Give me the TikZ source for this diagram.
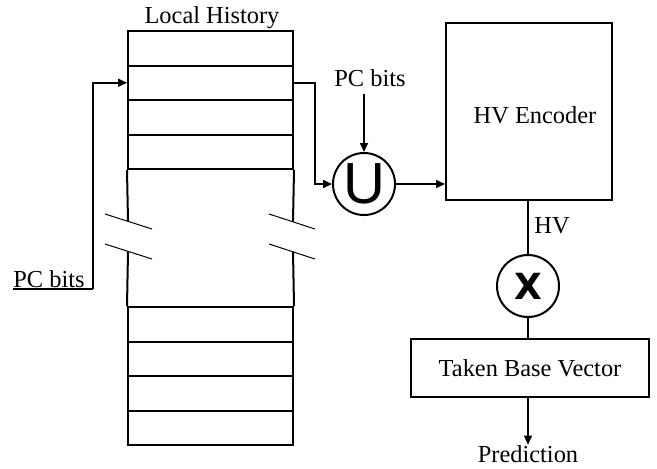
\documentclass[tikz,border=0pt]{standalone}
\usepackage{fontspec}
\setmainfont{Liberation Serif}
\newfontfamily\opsans{Liberation Sans}
\newfontfamily\opbold{DejaVu Sans}
\usetikzlibrary{arrows.meta,positioning}

\tikzset{
  cell/.style={draw,line width=1pt,minimum width=82.5pt,minimum height=17.25pt,inner sep=0pt},
  block/.style={draw,line width=1pt,inner sep=0pt},
  op/.style={draw,circle,line width=1pt,minimum size=31pt,inner sep=0pt},
  wire/.style={line width=0.8pt},
  arr/.style={wire,-{Triangle[length=4.5pt,width=4pt]}},
  brk/.style={line width=0.5pt}
}

\begin{document}
\begin{tikzpicture}[x=0.5pt,y=-0.5pt,font=\fontsize{12.2}{14}\selectfont]
\useasboundingbox (0,0) rectangle (657,468);
\pgfmathsetmacro{\rowh}{34.5}
% local history table
\foreach \i in {0,...,3} {
  \node[cell] (top\i) at (210.5,{31+\rowh*(\i+0.5)}) {};
  \node[cell] (bot\i) at (210.5,{307+\rowh*(\i+0.5)}) {};
}
\node[anchor=base,inner sep=0pt] (lhlabel) at (212,23) {Local History};
% broken sides
\draw[line width=1pt] (top3.south west) -- (128,221.5);
\draw[line width=1pt] (top3.south east) -- (293,221.5);
\draw[line width=1pt] (128,251.5) -- (bot0.north west);
\draw[line width=1pt] (293,251.5) -- (bot0.north east);
\draw[brk] (105,214) -- (152,229);
\draw[brk] (269,214) -- (315,229);
\draw[brk] (105,244) -- (152,259);
\draw[brk] (269,244) -- (315,259);
% pc bits into table
\node[anchor=south west,inner sep=0pt] (pcl) at (13,288) {PC bits};
\coordinate (pcturn) at (93,289);
\draw[wire] (pcl.south west |- pcturn) -- (pcturn);
\draw[arr] (pcturn) |- (top1.west);
% union
\node[op] (union) at (364,184) {\opsans\fontsize{29}{31}\selectfont U};
\node (pct) at (370,78) {PC bits};
\draw[arr] (top1.east) -- ++(21,0) |- (union.west);
\draw[arr] (union.north |- pct.south) -- (union.north);
% encoder
\node[block,minimum width=83pt,minimum height=88.5pt] (enc) at (529,111.5) {};
\node (enclabel) at (535,115) {HV Encoder};
\draw[arr] (union.east) -- (union.east -| enc.west);
% multiply
\node[op] (mul) at (528,286) {\opbold\bfseries\fontsize{18}{20}\selectfont X};
\draw[wire] (mul.north |- enc.south) -- (mul.north);
\node (hvlabel) at (552,226) {HV};
% taken vector
\node[block,minimum width=119pt,minimum height=29pt] (taken) at (530,368) {Taken Base Vector};
\draw[wire] (mul.south) -- (mul.south |- taken.north);
\node[anchor=base,inner sep=0pt] (pred) at (528,462) {Prediction};
\draw[arr] (mul.south |- taken.south) -- (mul.south |- pred.north);
\end{tikzpicture}
\end{document}
